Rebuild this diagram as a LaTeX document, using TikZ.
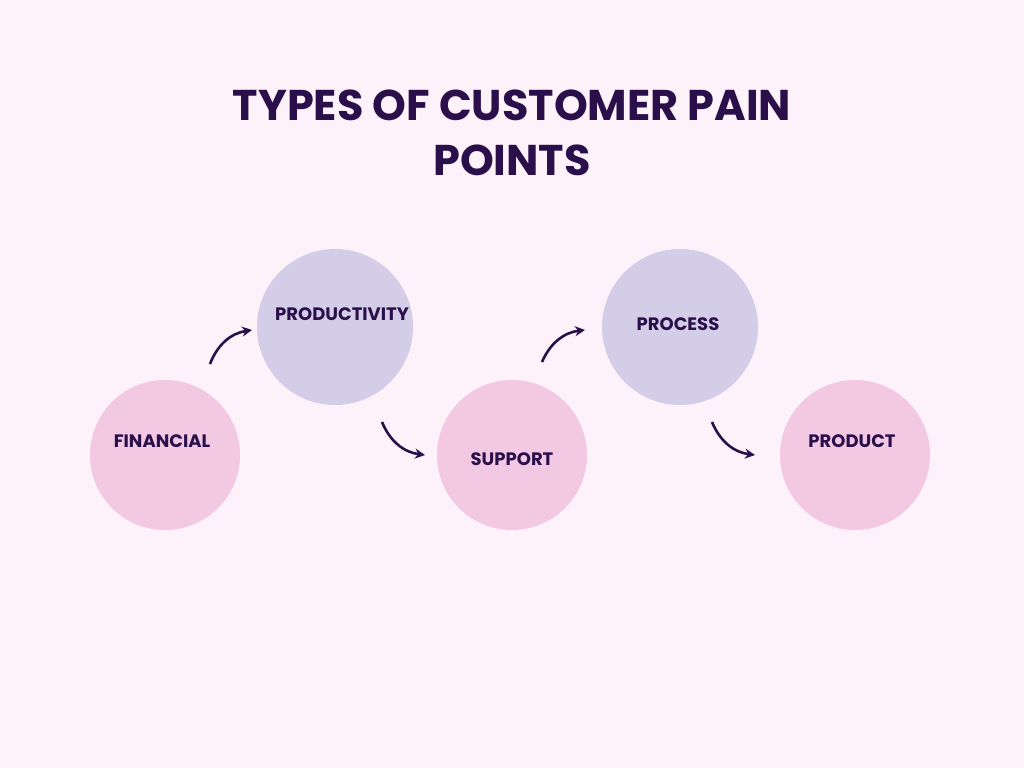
\documentclass[tikz,border=0pt]{standalone}
\usepackage{fontspec}
\setmainfont{Poppins}
\usetikzlibrary{arrows.meta}
\definecolor{bg}{HTML}{FDF2F9}
\definecolor{ink}{HTML}{2A0F4A}
\definecolor{pinkc}{HTML}{F2C8E3}
\definecolor{purpc}{HTML}{D3CDE7}
\begin{document}
\begin{tikzpicture}[x=1pt,y=-1pt,
  blob/.style={circle,minimum size=#1,inner sep=0pt,draw=none},
  lab/.style={text=ink,font=\fontsize{18}{20}\selectfont\bfseries},
  arr/.style={ink,line width=2.6pt,-{Stealth[length=10pt,width=10pt]}}]
\useasboundingbox (0,0) rectangle (1024,768);
\fill[bg] (0,0) rectangle (1024,768);
\node[text=ink,font=\fontsize{43}{55}\selectfont\bfseries,align=center] (title) at (512,133) {TYPES OF CUSTOMER PAIN\\POINTS};
\node[blob=150pt,fill=pinkc] (fin) at (165,455) {};
\node[lab] (finl) at (162,441) {FINANCIAL};
\node[blob=156pt,fill=purpc] (prod) at (335,327) {};
\node[lab] (prodl) at (342,314) {PRODUCTIVITY};
\node[blob=150pt,fill=pinkc] (sup) at (512,455) {};
\node[lab] (supl) at (512,459) {SUPPORT};
\node[blob=156pt,fill=purpc] (proc) at (680,327) {};
\node[lab] (procl) at (678,324) {PROCESS};
\node[blob=150pt,fill=pinkc] (pdt) at (855,455) {};
\node[lab] (pdtl) at (852,441) {PRODUCT};
\coordinate (a1) at (210,364); \coordinate (b1) at (252,330);
\coordinate (a2) at (382,422); \coordinate (b2) at (425,455);
\coordinate (a3) at (542,362); \coordinate (b3) at (585,330);
\coordinate (a4) at (712,422); \coordinate (b4) at (755,455);
\draw[arr] (a1) to[bend left=30] (b1);
\draw[arr] (a2) to[bend right=30] (b2);
\draw[arr] (a3) to[bend left=30] (b3);
\draw[arr] (a4) to[bend right=30] (b4);
\end{tikzpicture}
\end{document}
